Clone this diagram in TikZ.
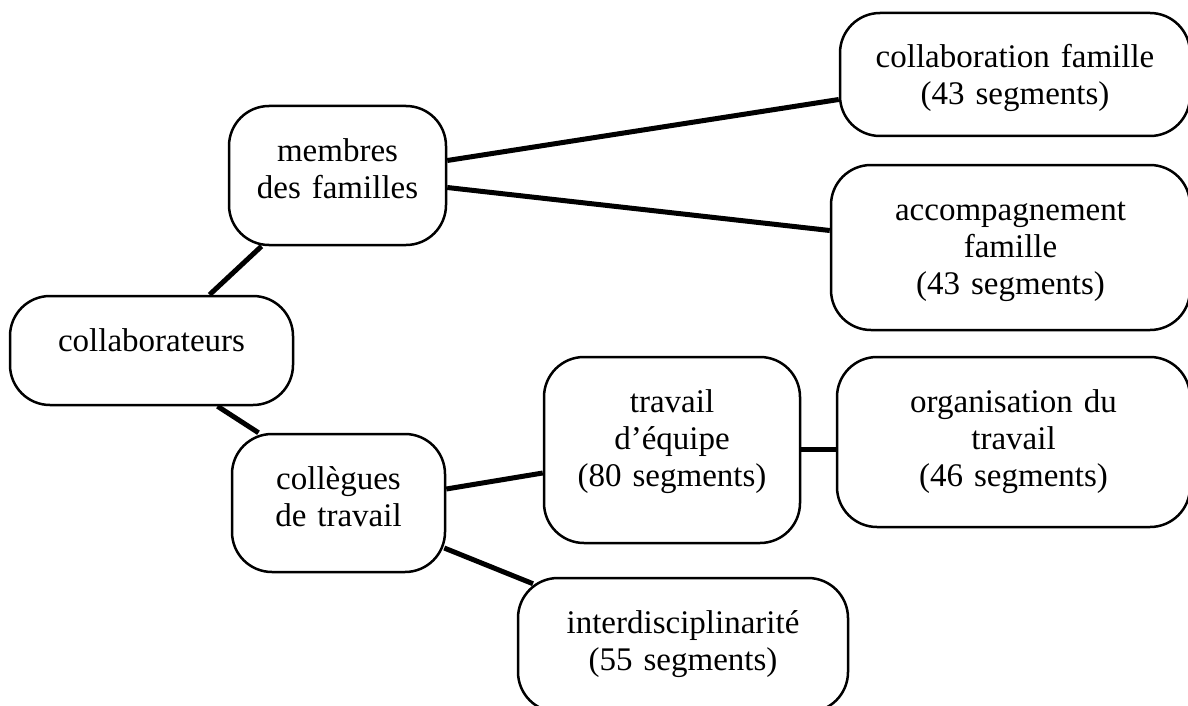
\documentclass[tikz,border=0pt]{standalone}
\usepackage{fontspec}
\setmainfont{Liberation Serif}
\tikzset{
  theme/.style = {shape=rectangle, rounded corners=40pt,
          draw, line width=2.5pt, align=center, inner sep=0pt,
        text height=55pt, font=\fontsize{33}{37}\selectfont},
  link/.style  = {draw, line width=5pt}
}

\begin{document}
\begin{tikzpicture}
  [
    x = 1pt,
    y = -1pt
  ]
  \useasboundingbox (0,0) rectangle (1188,706);
  \clip (0,0) rectangle (1188,706);
  \node [theme, text width=283pt, text depth=54pt]  (collab)  at (151.5,350.5) {collaborateurs};
  \node [theme, text width=217pt, text depth=84pt]  (membres) at (337.5,175.5) {membres\\des familles};
  \node [theme, text width=213pt, text depth=83pt]  (collegues) at (338.5,503) {collègues\\de travail};
  \node [theme, text width=350pt, text depth=68pt]  (collabfam) at (1015,74.5) {collaboration famille\\(43 segments)};
  \node [theme, text width=359pt, text depth=110pt] (accfam)  at (1010.5,247.5) {accompagnement\\famille\\(43 segments)};
  \node [theme, text width=256pt, text depth=131pt] (equipe)  at (672,450) {travail\\d’équipe\\(80 segments)};
  \node [theme, text width=353pt, text depth=115pt] (orga)    at (1013.5,442) {organisation du\\travail\\(46 segments)};
  \node [theme, text width=330pt, text depth=79pt]  (interdis) at (683,645) {interdisciplinarité\\(55 segments)};

  \draw [link] ([xshift=58pt]collab.north) -- ([xshift=-76pt]membres.south);
  \draw [link] ([xshift=66pt]collab.south) -- ([xshift=-80pt]collegues.north);
  \draw [link] ([yshift=15pt]membres.east) -- ([yshift=-25pt]collabfam.west);
  \draw [link] ([yshift=-12pt]membres.east) -- ([yshift=17pt]accfam.west);
  \draw [link] ([yshift=14pt]collegues.east) -- ([yshift=-23pt]equipe.west);
  \draw [link] ([yshift=1pt]equipe.east) -- ([yshift=-7pt]orga.west);
  \draw [link] ([xshift=-2pt,yshift=-45pt]collegues.east) -- ([xshift=-150pt,yshift=-7pt]interdis.north);
\end{tikzpicture}
\end{document}
